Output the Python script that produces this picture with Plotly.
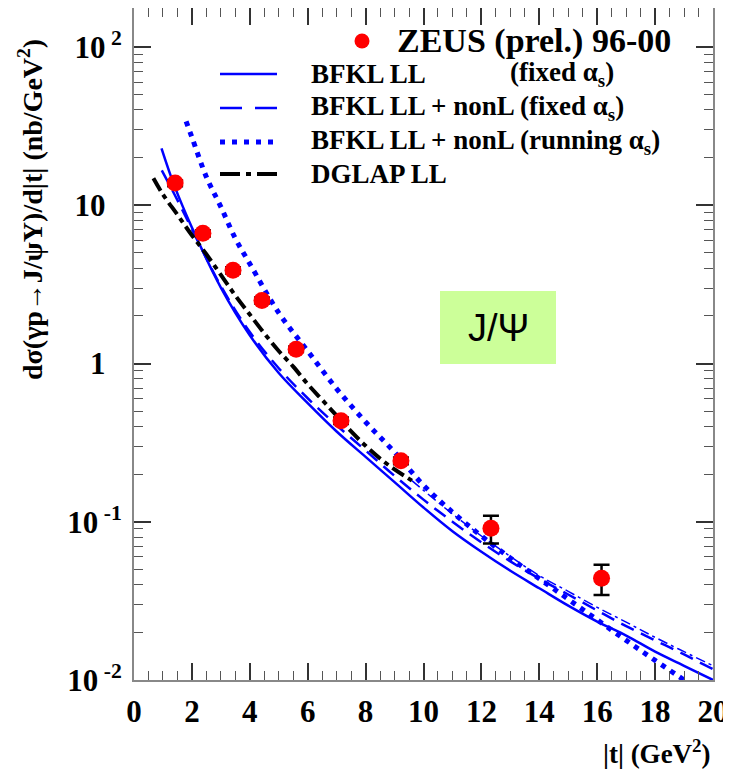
import plotly.graph_objects as go

# ---------------- data ----------------
t_data = [1.42, 2.38, 3.42, 4.42, 5.60, 7.15, 9.22, 12.33, 16.15]
dsig_data = [13.8, 6.65, 3.88, 2.50, 1.23, 0.435, 0.243, 0.091, 0.044]
dsig_err = [0.6, 0.3, 0.17, 0.11, 0.05, 0.02, 0.012, 0.018, 0.0095]

t_bfkl = [0.95, 1.4, 2, 3, 4, 5, 6, 7, 8, 9, 10, 11, 12, 13, 14, 15, 16, 17, 18, 19, 20]
y_bfkl = [22.9, 13.2, 7.24, 3.02, 1.51, 0.871, 0.562, 0.372, 0.257, 0.178, 0.123,
          0.0871, 0.0646, 0.049, 0.038, 0.0295, 0.0234, 0.0191, 0.0151, 0.0123, 0.0100]

t_nonl = [0.96, 1.4, 2, 3, 4, 5, 6, 7, 8, 9, 10, 11, 12, 13, 14, 15, 16, 17, 18, 19, 20]
y_nonl = [16.6, 11.7, 7.08, 3.09, 1.58, 0.933, 0.603, 0.407, 0.282, 0.195, 0.138,
          0.100, 0.0741, 0.0562, 0.0437, 0.0347, 0.0275, 0.0219, 0.0178, 0.0145, 0.0117]

t_run = [1.8, 2, 2.5, 3, 3.5, 4, 5, 6, 7, 8, 9, 10, 11, 12, 13, 14, 15, 16, 17, 18, 19]
y_run = [33.9, 26.9, 15.1, 9.77, 6.17, 4.27, 2.09, 1.20, 0.692, 0.427, 0.275, 0.170,
         0.115, 0.0813, 0.0589, 0.0437, 0.0324, 0.0240, 0.0178, 0.0133, 0.0100]

t_dglap = [0.67, 1, 1.5, 2, 2.5, 3, 3.5, 4, 4.5, 5, 5.5, 6, 6.5, 7, 7.5, 8, 8.5, 9, 9.6]
y_dglap = [14.8, 11.7, 8.71, 6.46, 4.90, 3.63, 2.69, 2.04, 1.55, 1.20, 0.955, 0.741,
           0.589, 0.468, 0.372, 0.302, 0.251, 0.214, 0.182]

t_thin = [9.6, 10, 11, 12, 13, 14, 15, 16, 17, 18, 19, 20]
y_thin = [0.182, 0.158, 0.112, 0.0813, 0.0603, 0.0457, 0.0363, 0.0288, 0.0232, 0.0186, 0.0151, 0.0123]

y_tickvals = [0.01, 0.1, 1, 10, 100]
inv = "<span style='color:rgba(0,0,0,0)'> 2</span>"
y_ticktext = ["10<sup> -2</sup>", "10<sup> -1</sup>", "1<sup>" + inv + "</sup>",
              "10<sup>" + inv + "</sup>", "10<sup> 2</sup>"]
x_tickvals = list(range(0, 21, 2))

legend_labels = ["ZEUS (prel.) 96-00", "BFKL LL", "BFKL LL + nonL (fixed α<sub>s</sub>)",
                 "BFKL LL + nonL (running α<sub>s</sub>)", "DGLAP LL"]

BLUE = "#0000ff"
SERIF = "Liberation Serif"

# ---------------- geometry (screen pixels; page body has an 8px margin) ----------------
OFF = 8
W, H = 731 - OFF, 774 - OFF
L, R, T, B = 134, 713, 8, 680          # plot frame in screen pixels
Y_TOP = 2 + (47 - T) / ((680 - 47) / 4)  # log10 value at top of frame


def px(x):
    return (x - L) / (R - L)


def py(y):
    return (B - y) / (B - T)


fig = go.Figure()

fig.add_trace(go.Scatter(x=t_bfkl, y=y_bfkl, mode="lines", line=dict(color=BLUE, width=2.5, shape="spline"),
                         showlegend=False))
fig.add_trace(go.Scatter(x=t_nonl, y=y_nonl, mode="lines",
                         line=dict(color=BLUE, width=2.5, dash="14px,8px", shape="spline"), showlegend=False))
fig.add_trace(go.Scatter(x=t_thin, y=y_thin, mode="lines",
                         line=dict(color=BLUE, width=1.5, dash="10px,4px,3px,4px", shape="spline"), showlegend=False))
fig.add_trace(go.Scatter(x=t_run, y=y_run, mode="lines",
                         line=dict(color=BLUE, width=5, dash="5px,6px", shape="spline"), showlegend=False))
fig.add_trace(go.Scatter(x=t_dglap, y=y_dglap, mode="lines",
                         line=dict(color="black", width=4, dash="14px,5px,5px,5px", shape="spline"), showlegend=False))
fig.add_trace(go.Scatter(x=t_data, y=dsig_data, mode="markers",
                         marker=dict(color="#ff0000", size=17, line=dict(width=0)),
                         error_y=dict(type="data", array=dsig_err, color="black", thickness=2.5, width=8),
                         showlegend=False))

shapes = []
annotations = []


def ann(x, y, text, size, xanchor="center", family=SERIF, weight="bold", **kw):
    d = dict(xref="paper", yref="paper", x=px(x), y=py(y), text=text, showarrow=False,
             xanchor=xanchor, yanchor="middle",
             font=dict(family=family, size=size, weight=weight, color="black"))
    d.update(kw)
    annotations.append(d)


# J/Psi box
shapes.append(dict(type="rect", xref="paper", yref="paper", x0=px(440), x1=px(556), y0=py(364), y1=py(291),
                   fillcolor="#ccff99", line=dict(width=0), layer="below"))
ann(498, 328, "J/Ψ", 38, family="Liberation Sans", weight="normal")

# legend
shapes.append(dict(type="circle", xref="paper", yref="paper", x0=px(354.5), x1=px(369.5), y0=py(48.5),
                   y1=py(33.5), fillcolor="#ff0000", line=dict(width=0)))
ann(395, 41, legend_labels[0], 34, xanchor="left")
leg_y = [74, 108, 142, 174]
leg_styles = [dict(color=BLUE, width=2.5), dict(color=BLUE, width=2.5, dash="22px,13px"),
              dict(color=BLUE, width=5, dash="5px,7px"), dict(color="black", width=4, dash="20px,6px,5px,6px")]
for ly, st, lab in zip(leg_y, leg_styles, legend_labels[1:]):
    shapes.append(dict(type="line", xref="paper", yref="paper", x0=px(220), x1=px(277), y0=py(ly), y1=py(ly),
                       line=st))
    ann(309, ly, lab, 27, xanchor="left")
ann(508, 74, "(fixed α<sub>s</sub>)", 27, xanchor="left")

# axis titles
ann(30, 210, "dσ(γp→J/ψY)/d|t| (nb/GeV<sup>2</sup>)", 28, textangle=-90)
ann(713, 752, "|t| (GeV<sup>2</sup>)", 27, xanchor="right")

fig.update_layout(
    width=W, height=H,
    margin=dict(l=L - OFF, r=W - (R - OFF), t=T - OFF, b=H - (B - OFF), autoexpand=False),
    paper_bgcolor="white", plot_bgcolor="white",
    shapes=shapes, annotations=annotations,
    showlegend=False,
)
fig.update_xaxes(range=[0, 20], tickvals=x_tickvals, ticks="inside", ticklen=17, tickwidth=1.5, tickcolor="#333",
                 minor=dict(dtick=0.5, ticks="inside", ticklen=9, tickcolor="#555", tickwidth=1.2),
                 showline=True, linecolor="#888", linewidth=2, mirror="allticks", showgrid=False, zeroline=False,
                 automargin=False,
                 tickfont=dict(family=SERIF, size=31, weight="bold", color="black"), ticklabelstandoff=3)
minor_y = [m * 10 ** e for e in range(-2, 3) for m in range(2, 10)]
fig.update_yaxes(type="log", range=[-2, Y_TOP], tickvals=y_tickvals, ticktext=y_ticktext,
                 ticks="inside", ticklen=17, tickwidth=1.5, tickcolor="#333",
                 minor=dict(tickvals=minor_y, ticks="inside", ticklen=9, tickcolor="#555", tickwidth=1.2),
                 showline=True, linecolor="#888", linewidth=2, mirror="allticks", showgrid=False, zeroline=False,
                 automargin=False,
                 tickfont=dict(family=SERIF, size=31, weight="bold", color="black"), ticklabelstandoff=4)

fig.write_html("out.html")
